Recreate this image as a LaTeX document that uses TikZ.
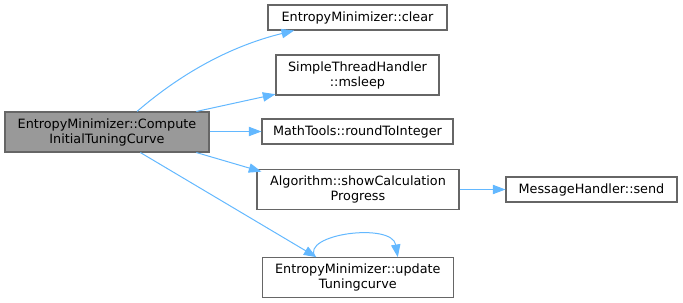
\documentclass[tikz,border=0pt]{standalone}
\usepackage{fontspec}
\setmainfont{DejaVu Sans}
\usetikzlibrary{arrows.meta}
\definecolor{edgeblue}{HTML}{63B8FF}
\definecolor{boxline}{HTML}{666666}
\definecolor{mainfill}{HTML}{999999}
\begin{document}
\begin{tikzpicture}[x=0.75pt,y=-0.75pt,
  fn/.style={draw=boxline,fill=white,line width=0.8pt,inner sep=0pt,align=center,
    font=\fontsize{9.6pt}{11.25pt}\selectfont,text=black},
  rootfn/.style={fn,fill=mainfill},
  edge/.style={draw=edgeblue,line width=0.75pt,-{Triangle[length=9.5pt,width=7pt]}}]
\useasboundingbox (0,0) rectangle (683,303);
% caller
\node[rootfn,minimum width=153pt,minimum height=30pt] (main) at (107,132)
  {EntropyMinimizer::Compute\\InitialTuningCurve};
% callees
\node[fn,minimum width=134.25pt,minimum height=18.75pt] (clear) at (357.5,17.5) {EntropyMinimizer::clear};
\node[fn,minimum width=122.25pt,minimum height=30pt] (msleep) at (357.5,75) {SimpleThreadHandler\\::msleep};
\node[fn,minimum width=143.25pt,minimum height=18.75pt] (round) at (357.5,131.5) {MathTools::roundToInteger};
\node[fn,minimum width=151.5pt,minimum height=30pt] (show) at (358,189.5) {Algorithm::showCalculation\\Progress};
\node[fn,minimum width=128.25pt,minimum height=18.75pt] (send) at (591.5,189.5) {MessageHandler::send};
\node[fn,minimum width=143.25pt,minimum height=30pt] (update) at (357.8,277.7) {EntropyMinimizer::update\\Tuningcurve};
% calls
\draw[edge] ([xshift=22.5pt]main.north) .. controls (185,70) and (235,45) .. ([xshift=-47.5pt]clear.south);
\draw[edge] ([xshift=67pt]main.north) -- ([yshift=1pt]msleep.south west);
\draw[edge] (main.east |- round.west) -- (round.west);
\draw[edge] ([xshift=67pt]main.south) -- ([xshift=3.75pt,yshift=-2pt]show.north west);
\draw[edge] ([xshift=25pt]main.south) -- ([xshift=-31pt]update.north);
\draw[edge] (show.east) -- (send.west);
\draw[edge] ([xshift=-32pt]update.north) .. controls (300,234) and (392,222) .. ([xshift=30pt]update.north);
\end{tikzpicture}
\end{document}
